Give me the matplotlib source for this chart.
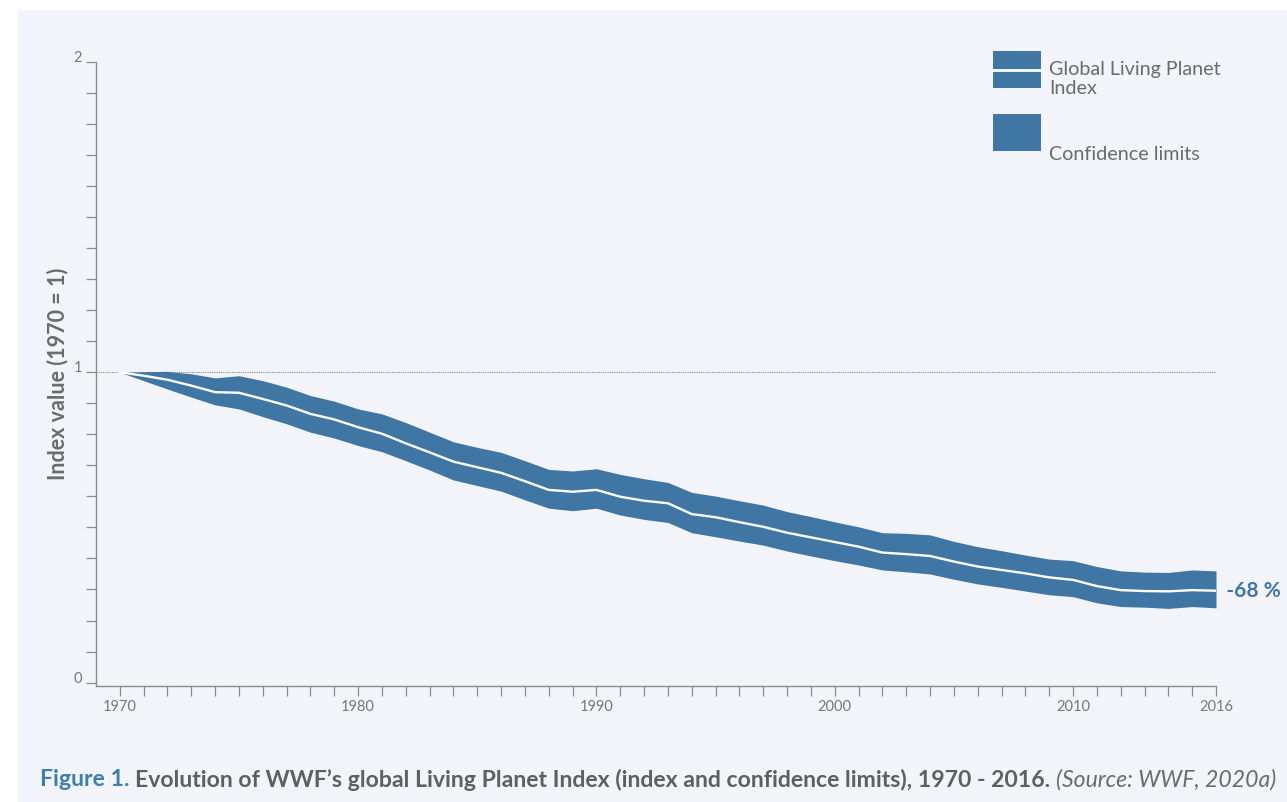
import numpy as np
import matplotlib
matplotlib.use("Agg")
import matplotlib.pyplot as plt
from matplotlib.patches import Rectangle
from matplotlib.transforms import ScaledTranslation

# ---- data ----
years = list(range(1970, 2017))
index_value = [1.000, 0.989, 0.976, 0.957, 0.936, 0.934, 0.914, 0.893, 0.866, 0.848,
               0.823, 0.802, 0.771, 0.742, 0.712, 0.694, 0.676, 0.649, 0.621, 0.615,
               0.621, 0.599, 0.586, 0.578, 0.543, 0.533, 0.517, 0.502, 0.483, 0.468,
               0.453, 0.438, 0.419, 0.414, 0.408, 0.390, 0.374, 0.363, 0.352, 0.339,
               0.331, 0.311, 0.298, 0.295, 0.294, 0.298, 0.296]
upper_limit = [1.000, 1.002, 1.003, 0.995, 0.982, 0.989, 0.973, 0.952, 0.925, 0.907,
               0.882, 0.866, 0.838, 0.807, 0.776, 0.758, 0.742, 0.715, 0.687, 0.682,
               0.689, 0.671, 0.657, 0.645, 0.613, 0.601, 0.586, 0.572, 0.551, 0.535,
               0.518, 0.502, 0.483, 0.481, 0.476, 0.455, 0.438, 0.425, 0.411, 0.398,
               0.393, 0.374, 0.360, 0.356, 0.355, 0.363, 0.360]
lower_limit = [1.000, 0.973, 0.946, 0.920, 0.895, 0.882, 0.857, 0.834, 0.807, 0.788,
               0.764, 0.744, 0.715, 0.685, 0.653, 0.635, 0.617, 0.589, 0.562, 0.554,
               0.562, 0.540, 0.526, 0.516, 0.483, 0.470, 0.456, 0.443, 0.424, 0.408,
               0.393, 0.379, 0.363, 0.357, 0.350, 0.333, 0.318, 0.307, 0.295, 0.283,
               0.277, 0.257, 0.245, 0.243, 0.239, 0.245, 0.241]
x_label_years = [1970, 1980, 1990, 2000, 2010, 2016]
y_label_values = [0, 1, 2]
change_label = "-68 %"

BLUE = "#3f76a4"
GREY = "#6b6b6b"
AXGREY = "#8c8c8c"
PANEL = "#f3f4f9"
FONT = "Lato"

plt.rcParams['font.family'] = [FONT, 'DejaVu Sans']

fig = plt.figure(figsize=(12.87, 8.02), dpi=100)
fig.patch.set_facecolor("white")
# light panel behind everything
fig.patches.append(Rectangle((18 / 1287, 0), 1 - 18 / 1287, 1 - 10 / 802,
                             transform=fig.transFigure, facecolor=PANEL,
                             edgecolor="none", zorder=-10))

W, H = 1287, 802
left, right = 96 / W, 1216 / W
bottom, top = (H - 686) / H, (H - 62) / H
ax = fig.add_axes([left, bottom, right - left, top - bottom])
ax.set_facecolor("none")

ax.fill_between(years, lower_limit, upper_limit, color=BLUE, lw=0, zorder=2)
ax.plot(years, index_value, color="white", lw=1.7, zorder=3, solid_joinstyle="round")
ax.axhline(1.0, color="#888888", lw=0.8, ls=(0, (1, 1)), zorder=1)

ax.set_xlim(1969, 2016)
ax.set_ylim(-0.011, 2)

for s in ["top", "right"]:
    ax.spines[s].set_visible(False)
for s in ["left", "bottom"]:
    ax.spines[s].set_color(AXGREY)
    ax.spines[s].set_linewidth(1.0)
ax.spines["left"].set_bounds(-0.011, 2)

ax.set_xticks(years)
ax.set_xticklabels([str(y) if y in x_label_years else "" for y in years])
yt = [round(v * 0.1, 1) for v in range(0, 21)]
ax.set_yticks(yt)
ax.set_yticklabels([str(int(v)) if v in y_label_values else "" for v in yt])
ax.tick_params(axis="both", direction="out", length=7, width=0.9, color=AXGREY,
               labelcolor="#777777", labelsize=10.5)
ax.tick_params(axis="x", pad=3)
ax.tick_params(axis="y", pad=3)
for lab in ax.get_yticklabels():
    lab.set_transform(lab.get_transform() + ScaledTranslation(0, 4 / 72, fig.dpi_scale_trans))

ax.set_ylabel("Index value (1970 = 1)", fontsize=15.5, fontweight="bold", color=GREY,
              labelpad=4)

# end label
ax.text(2016, 0.296, "  " + change_label, color=BLUE, fontsize=15, fontweight="bold",
        va="center", ha="left", transform=ax.transData, clip_on=False)

# legend (manual)
def frect(x0, y0, x1, y1, **kw):
    fig.patches.append(Rectangle((x0 / W, 1 - y1 / H), (x1 - x0) / W, (y1 - y0) / H,
                                 transform=fig.transFigure, **kw))

frect(993, 51, 1041, 88, facecolor=BLUE, edgecolor="none")
fig.lines.append(plt.Line2D([993 / W, 1041 / W], [1 - 69.5 / H, 1 - 69.5 / H],
                            transform=fig.transFigure, color="white", lw=2))
frect(993, 114, 1041, 151, facecolor=BLUE, edgecolor="none")
fig.text(1049 / W, 1 - 79 / H, "Global Living Planet\nIndex", fontsize=14.2, color=GREY,
         va="center", ha="left", linespacing=1.2)
fig.text(1049 / W, 1 - 154 / H, "Confidence limits", fontsize=14.2, color=GREY,
         va="center", ha="left")

# caption
CAP = 16.6
t1 = fig.text(40 / W, 1 - 780 / H, "Figure 1. ", fontsize=CAP, color="#3d7db0",
              fontweight="bold", va="center", ha="left")
t2 = fig.text(0, 0, "Evolution of WWF\u2019s global Living Planet Index (index and confidence limits), 1970 - 2016. ",
              fontsize=CAP, color="#5f5f5f", fontweight="bold", va="center", ha="left")
t3 = fig.text(0, 0, "(Source: WWF, 2020a)", fontsize=CAP, color="#6b6b6b",
              style="italic", va="center", ha="left")
fig.canvas.draw()
r = fig.canvas.get_renderer()
bb1 = t1.get_window_extent(r)
t2.set_position((bb1.x1 / W, 1 - 780 / H))
fig.canvas.draw()
bb2 = t2.get_window_extent(r)
t3.set_position((bb2.x1 / W, 1 - 780 / H))

fig.savefig("out.png", dpi=100, facecolor=fig.get_facecolor())
